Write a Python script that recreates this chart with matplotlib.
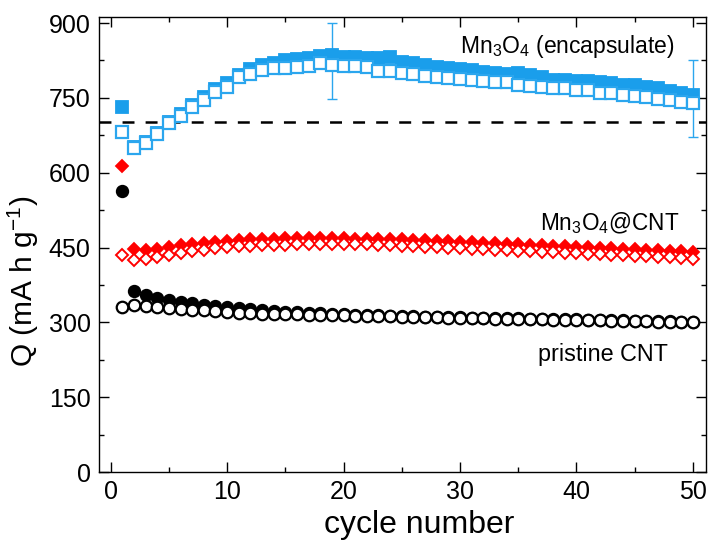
import matplotlib
matplotlib.use("Agg")
import matplotlib.pyplot as plt
from matplotlib.ticker import MultipleLocator
import numpy as np

plt.rcParams['font.family'] = ['Liberation Sans', 'DejaVu Sans']
plt.rcParams['mathtext.fontset'] = 'custom'
plt.rcParams['mathtext.rm'] = 'Liberation Sans'
plt.rcParams['mathtext.it'] = 'Liberation Sans'
plt.rcParams['mathtext.default'] = 'regular'
plt.rcParams['lines.scale_dashes'] = False

cycles = list(range(1, 51))

enc_charge = [731, 652, 662, 680, 702, 717, 735, 752, 768, 780,
              796, 808, 816, 820, 826, 828, 830, 834, 836, 832,
              832, 830, 830, 832, 822, 820, 816, 812, 810, 808,
              806, 802, 800, 798, 800, 796, 792, 786, 786, 784,
              784, 782, 780, 776, 776, 772, 770, 764, 760, 756]
enc_discharge = [681, 649, 659, 677, 699, 714, 731, 745, 762, 772,
                 792, 798, 806, 810, 810, 812, 814, 820, 816, 814,
                 814, 812, 804, 804, 800, 798, 794, 792, 790, 788,
                 786, 784, 782, 782, 776, 774, 772, 770, 770, 766,
                 766, 760, 760, 756, 754, 752, 748, 746, 742, 740]

cnt_charge = [613, 448, 446, 448, 452, 455, 458, 460, 461, 464,
              466, 467, 468, 468, 469, 469, 470, 470, 469, 469,
              468, 468, 468, 468, 467, 466, 465, 464, 463, 462,
              461, 460, 459, 458, 457, 456, 455, 454, 453, 452,
              451, 450, 449, 448, 447, 446, 445, 444, 443, 442]
cnt_discharge = [435, 426, 428, 432, 436, 440, 443, 446, 449, 452,
                 453, 454, 455, 456, 456, 457, 457, 457, 457, 457,
                 457, 457, 456, 455, 454, 453, 452, 451, 450, 449,
                 448, 447, 446, 445, 444, 443, 442, 441, 440, 439,
                 438, 437, 436, 435, 434, 433, 432, 431, 430, 428]

pr_charge = [564, 363, 355, 348, 345, 341, 338, 335, 333, 330,
             328, 326, 324, 322, 321, 320, 319, 318, 317, 316,
             315, 315, 314, 313, 313, 312, 311, 311, 310, 310,
             309, 309, 308, 308, 308, 307, 307, 306, 306, 306,
             305, 305, 304, 304, 303, 303, 302, 302, 301, 301]
pr_discharge = [331, 335, 333, 330, 328, 326, 325, 324, 322, 320,
                319, 318, 317, 317, 316, 316, 315, 315, 314, 314,
                313, 313, 312, 312, 311, 311, 310, 310, 309, 309,
                308, 308, 307, 307, 307, 306, 306, 305, 305, 305,
                304, 304, 303, 303, 302, 302, 301, 301, 300, 300]

err_x = [19, 50]
err_y = [824, 748]
err_half = [76, 77]

ref_level = 702

blue = '#1A9EEB'
blue_open = '#2BA6EE'
red = '#FF0000'
black = '#000000'

fig = plt.figure(figsize=(7.08, 5.42), dpi=100)
ax = fig.add_axes([0.1398, 0.129, 0.857, 0.8396])

ax.axhline(ref_level, color='black', lw=1.8, ls=(0, (8.6, 8.0)), zorder=1)

ax.errorbar(err_x, err_y, yerr=err_half, fmt='none', ecolor=blue_open,
            elinewidth=1.0, capsize=3.5, capthick=1.0, zorder=2)

ax.plot(cycles, enc_charge, 's', ms=9, color=blue, mec=blue, mew=1.3, zorder=3)
ax.plot(cycles, enc_discharge, 's', ms=8.5, mfc='white', mec=blue_open, mew=1.6, zorder=4)

ax.plot(cycles, cnt_charge, 'D', ms=6.3, color=red, mec=red, mew=1.3, zorder=3)
ax.plot(cycles, cnt_discharge, 'D', ms=6.3, mfc='white', mec=red, mew=1.4, zorder=4)

ax.plot(cycles, pr_charge, 'o', ms=8.3, color=black, mec=black, mew=1.3, zorder=3)
ax.plot(cycles, pr_discharge, 'o', ms=8.3, mfc='white', mec=black, mew=1.6, zorder=4)

ax.text(30.0, 852, r'Mn$_3$O$_4$ (encapsulate)', fontsize=16.5, ha='left', va='center')
ax.text(36.9, 498, r'Mn$_3$O$_4$@CNT', fontsize=16.3, ha='left', va='center')
ax.text(36.7, 235, 'pristine CNT', fontsize=16.8, ha='left', va='center')

ax.set_xlim(-1, 51.1)
ax.set_ylim(0, 912)
ax.xaxis.set_major_locator(MultipleLocator(10))
ax.xaxis.set_minor_locator(MultipleLocator(5))
ax.yaxis.set_major_locator(MultipleLocator(150))
ax.yaxis.set_minor_locator(MultipleLocator(75))
ax.tick_params(which='both', direction='in', top=True, right=True, width=1.0)
ax.tick_params(which='major', length=7, labelsize=18, pad=6)
ax.tick_params(which='minor', length=3.5)
for s in ax.spines.values():
    s.set_linewidth(1.0)

ax.set_xlabel('cycle number', fontsize=23)
ax.set_ylabel(r'Q (mA h g$^{-1}$)', fontsize=21.5)
ax.xaxis.set_label_coords(0.527, -0.083)
ax.yaxis.set_label_coords(-0.095, 0.42)

fig.savefig('out.png', dpi=100)
